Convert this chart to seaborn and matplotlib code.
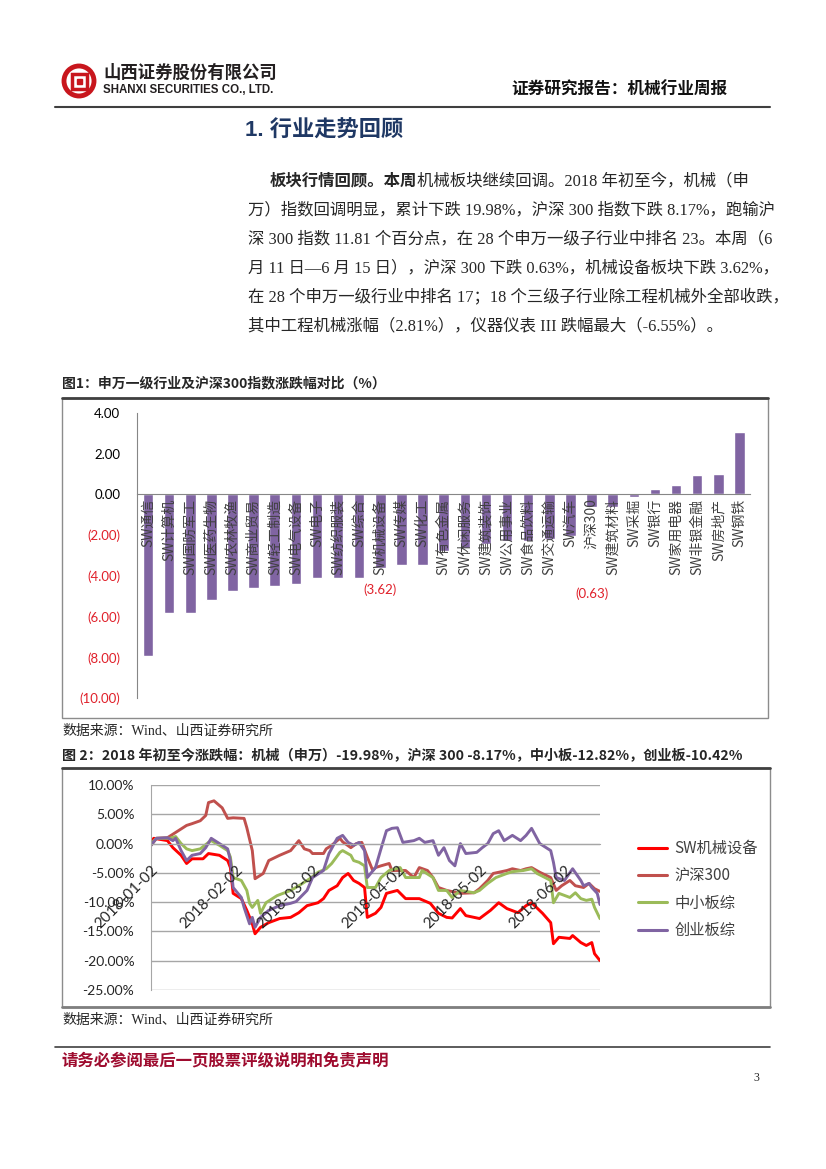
import numpy as np
import pandas as pd
import matplotlib
matplotlib.use('Agg')
import matplotlib.pyplot as plt
import seaborn as sns
from matplotlib.lines import Line2D
from matplotlib.patches import Circle, Rectangle

# Figure 1: weekly change of SW level-1 industries and CSI 300 (%)
industries = ['SW通信', 'SW计算机', 'SW国防军工', 'SW医药生物', 'SW农林牧渔', 'SW商业贸易',
              'SW轻工制造', 'SW电气设备', 'SW电子', 'SW纺织服装', 'SW综合', 'SW机械设备',
              'SW传媒', 'SW化工', 'SW有色金属', 'SW休闲服务', 'SW建筑装饰', 'SW公用事业',
              'SW食品饮料', 'SW交通运输', 'SW汽车', '沪深300', 'SW建筑材料', 'SW采掘',
              'SW银行', 'SW家用电器', 'SW非银金融', 'SW房地产', 'SW钢铁']
weekly_chg = [-7.95, -5.8, -5.8, -5.2, -4.75, -4.6, -4.5, -4.4, -4.1, -4.1, -4.1, -3.62,
              -3.45, -3.45, -2.8, -2.65, -2.45, -2.3, -2.3, -2.2, -2.05, -0.63, -0.6, -0.12,
              0.25, 0.45, 0.95, 1.0, 3.05]
bar_ticks = [-10, -8, -6, -4, -2, 0, 2, 4]

# Figure 2: cumulative change since 2018-01-02 (%), x = days after 2018-01-02
mach_days = [0, 1, 6, 8, 11, 13, 15, 19, 21, 25, 28, 29, 30, 33, 35, 37, 38, 40, 43, 47,
             51, 54, 57, 61, 63, 65, 68, 70, 72, 74, 76, 78, 79, 82, 84, 86, 90, 93, 98, 102,
             105, 108, 110, 113, 115, 120, 124, 127, 130, 134, 137, 139, 143, 146, 147, 149, 153, 154, 157, 159,
             161, 162, 164]
mach_vals = [0.2, 0.9, 0.5, -0.7, -2.0, -3.4, -2.6, -2.6, -1.7, -2.0, -2.9, -4.1, -8.5, -9.4, -11.4, -13.7, -15.4, -14.3, -13.5, -12.8,
             -12.6, -11.8, -10.6, -10.1, -9.4, -8.0, -7.2, -5.8, -5.1, -6.3, -6.8, -7.5, -12.6, -11.9, -10.9, -8.5, -8.0, -9.4, -9.4, -10.2,
             -11.9, -12.6, -12.7, -11.1, -12.3, -12.8, -11.4, -10.1, -11.1, -11.8, -10.6, -10.1, -11.9, -13.5, -17.1, -16.0, -16.2, -15.7, -16.9, -17.4,
             -16.9, -18.8, -19.98]

hs_days = [0, 2, 6, 9, 13, 15, 18, 20, 21, 23, 26, 28, 30, 34, 35, 37, 38, 41, 43, 47,
           51, 54, 56, 58, 59, 63, 64, 66, 69, 70, 73, 75, 77, 79, 81, 82, 84, 87, 88, 93,
           96, 98, 101, 103, 105, 108, 113, 118, 120, 123, 125, 127, 130, 132, 135, 137, 139, 142, 146, 148,
           150, 153, 155, 158, 160, 162, 164]
hs_vals = [-0.3, 0.9, 1.0, 1.9, 3.1, 3.4, 3.9, 4.8, 7.0, 7.3, 6.1, 4.3, 4.4, 4.3, 2.7, -1.2, -6.0, -5.1, -2.9, -2.0,
           -1.2, 0.5, -0.9, -1.2, -1.7, -1.7, -0.9, -0.3, 0.9, 0.3, -0.7, 0.0, 0.2, -2.3, -4.6, -4.1, -3.8, -3.4, -4.6, -4.6,
           -5.8, -4.1, -4.6, -5.8, -7.5, -8.0, -8.5, -8.4, -7.7, -6.3, -5.1, -4.9, -4.6, -4.3, -4.6, -4.3, -4.1, -4.9, -5.8, -8.0,
           -7.2, -6.3, -7.2, -7.5, -6.8, -7.7, -8.17]

smb_days = [0, 2, 7, 9, 11, 13, 15, 18, 21, 22, 25, 28, 29, 30, 33, 35, 36, 37, 39, 40,
            42, 46, 51, 54, 58, 61, 64, 66, 69, 70, 73, 74, 76, 78, 79, 82, 84, 87, 91, 93,
            98, 99, 103, 105, 108, 110, 113, 118, 120, 123, 126, 130, 132, 136, 139, 141, 146, 147, 149, 153,
            155, 157, 159, 161, 162, 164]
smb_vals = [0.0, 0.9, 0.9, 1.2, 0.0, -0.9, -1.2, -0.9, 0.2, 0.5, -0.3, -1.2, -2.3, -5.8, -6.3, -8.0, -10.2, -10.9, -9.7, -11.9,
            -10.1, -8.9, -8.0, -7.2, -6.0, -4.9, -4.3, -3.4, -1.5, -1.2, -2.0, -2.9, -3.2, -3.8, -7.5, -7.5, -5.8, -4.6, -4.1, -5.8,
            -5.8, -4.6, -5.8, -8.0, -8.0, -9.2, -8.0, -8.4, -8.0, -6.8, -5.8, -5.1, -4.8, -4.6, -4.3, -5.1, -6.3, -10.1, -8.5, -9.2,
            -8.4, -9.4, -9.7, -9.5, -10.9, -12.82]

gem_days = [0, 2, 6, 8, 9, 11, 13, 15, 18, 20, 22, 25, 28, 29, 30, 33, 34, 36, 37, 38,
            40, 43, 47, 51, 53, 57, 59, 63, 65, 68, 70, 72, 74, 76, 78, 79, 82, 84, 86, 88,
            90, 92, 96, 98, 100, 103, 105, 107, 109, 111, 113, 115, 119, 121, 123, 125, 127, 129, 132, 135,
            137, 139, 142, 146, 147, 148, 151, 154, 157, 158, 160, 161, 163, 164]
gem_vals = [-0.3, 0.9, 1.0, 0.5, 0.9, -1.2, -2.9, -2.0, -1.7, -0.7, 0.9, 0.0, -0.9, -2.9, -7.5, -9.2, -10.9, -13.7, -12.6, -14.3,
            -12.6, -11.4, -10.6, -10.2, -9.9, -8.0, -5.8, -4.6, -1.7, 0.9, 1.4, 0.2, -0.3, 0.2, -1.2, -5.8, -4.1, -0.9, 2.2, 2.6,
            2.7, 0.2, 0.5, 0.9, 0.2, 0.5, -2.0, -0.7, -2.9, -3.8, 0.0, -1.7, -1.5, -0.7, 0.0, 1.7, 2.2, 0.5, 1.4, 0.5,
            1.4, 2.6, 0.0, -1.2, -3.2, -5.8, -6.3, -4.3, -6.3, -7.2, -6.8, -7.5, -8.5, -10.42]

series_names = ['SW机械设备', '沪深300', '中小板综', '创业板综']
line_colors = ['#FF0000', '#C0504D', '#9BBB59', '#8064A2']
month_ticks = ['2018-01-02', '2018-02-02', '2018-03-02', '2018-04-02', '2018-05-02', '2018-06-02']
line_ticks = [-25, -20, -15, -10, -5, 0, 5, 10]

sns.set_style('white')
CJK = ['Noto Sans CJK SC', 'DejaVu Sans']
SERIF = ['Liberation Serif', 'Noto Sans CJK SC']
NUM = ['Lato', 'DejaVu Sans']
plt.rcParams['font.family'] = CJK
plt.rcParams['axes.unicode_minus'] = False

RED = '#E0202A'
GRAY = '#A6A6A6'

W, H = 826, 1169
fig = plt.figure(figsize=(8.26, 11.69), dpi=100)

# page layer, pixel coordinates
page = fig.add_axes([0, 0, 1, 1])
page.set_xlim(0, W)
page.set_ylim(H, 0)
page.axis('off')

# logo
logo_red = '#C8161D'
page.add_patch(Circle((79, 81), 15, fill=False, ec=logo_red, lw=3.5))
page.add_patch(Rectangle((71.5, 73.5), 15, 15, fill=False, ec=logo_red, lw=2.5))
page.add_patch(Rectangle((76.5, 78.5), 5, 5, color=logo_red))
page.text(103, 73, '山西证券股份有限公司', fontsize=12.5, weight='bold', color='#231F20',
          family=CJK, va='center')
page.text(103, 90, 'SHANXI SECURITIES CO., LTD.', fontsize=8.3, weight='bold', color='#231F20',
          family=['Liberation Sans'], va='center')
page.text(727, 90, '证券研究报告：机械行业周报', fontsize=12, weight='bold', color='#111111',
          family=CJK, va='center', ha='right')
page.plot([55, 770], [107, 107], color='#3F3F3F', lw=1.5)

# section title and paragraph
page.text(245, 131, '1. 行业走势回顾', fontsize=16, weight='bold', color='#1F3864',
          family=['Liberation Sans', 'Noto Sans CJK SC'], va='center')
body_fs = 11.8
t1 = page.text(270, 181, '板块行情回顾。本周', fontsize=body_fs, weight='bold', family=SERIF, va='center')
page.annotate('机械板块继续回调。2018 年初至今，机械（申', xy=(1, 0.5), xycoords=t1,
              fontsize=body_fs, family=SERIF, va='center', ha='left')
body_lines = ['万）指数回调明显，累计下跌 19.98%，沪深 300 指数下跌 8.17%，跑输沪',
              '深 300 指数 11.81 个百分点，在 28 个申万一级子行业中排名 23。本周（6',
              '月 11 日—6 月 15 日），沪深 300 下跌 0.63%，机械设备板块下跌 3.62%，',
              '在 28 个申万一级行业中排名 17；18 个三级子行业除工程机械外全部收跌，',
              '其中工程机械涨幅（2.81%），仪器仪表 III 跌幅最大（-6.55%）。']
for k, line in enumerate(body_lines):
    page.text(248, 210 + 29 * k, line, fontsize=body_fs, family=SERIF, va='center')

# figure 1 frame and captions
page.text(62, 383, '图1：申万一级行业及沪深300指数涨跌幅对比（%）', fontsize=10, weight='bold',
          family=CJK, va='center')
page.add_patch(Rectangle((62, 398), 706, 320, fill=False, ec='#8C8C8C', lw=1))
page.plot([62, 768], [398, 398], color='#404040', lw=2)
page.text(62, 731, '数据来源：Wind、山西证券研究所', fontsize=10, family=SERIF, va='center')

# figure 2 frame and captions
page.text(62, 756, '图 2：2018 年初至今涨跌幅：机械（申万）-19.98%，沪深 300 -8.17%，中小板-12.82%，创业板-10.42%',
          fontsize=10.2, weight='bold', family=CJK, va='center')
page.add_patch(Rectangle((62, 768), 708, 239, fill=False, ec='#8C8C8C', lw=1))
page.plot([62, 770], [768, 768], color='#404040', lw=2)
page.plot([62, 770], [1007, 1007], color='#7F7F7F', lw=2)
page.text(62, 1020, '数据来源：Wind、山西证券研究所', fontsize=10, family=SERIF, va='center')

# footer
page.plot([55, 770], [1047, 1047], color='#3F3F3F', lw=1.2)
page.text(62, 1060, '请务必参阅最后一页股票评级说明和免责声明', fontsize=11.8, weight='bold',
          color='#9E0B2E', family=CJK, va='center')
page.text(753, 1078, '3', fontsize=8.5, family=SERIF, va='center')

# ---- Figure 1: bar chart ----
ax1 = fig.add_axes([137 / W, 1 - 698 / H, (750 - 137) / W, (698 - 413) / H])
bar_df = pd.DataFrame({'industry': industries, 'chg': weekly_chg})
sns.barplot(data=bar_df, x='industry', y='chg', color='#8064A2', saturation=1, width=0.5, ax=ax1)
ax1.set_axisbelow(False)  # category labels sit on top of the bars
ax1.set_xlim(-0.52, len(industries) - 0.53)
ax1.set_ylim(-10, 4)
ax1.set_xlabel('')
ax1.set_ylabel('')
ax1.set_yticks(bar_ticks)
ax1.set_yticklabels([f'({abs(v):.2f})' if v < 0 else f'{v:.2f}' for v in bar_ticks],
                    fontsize=9.5, family=NUM)
for lab, v in zip(ax1.get_yticklabels(), bar_ticks):
    lab.set_color(RED if v < 0 else 'black')
ax1.spines[['top', 'right']].set_visible(False)
ax1.spines['left'].set_color('#868686')
ax1.spines['bottom'].set_position(('data', 0))
ax1.spines['bottom'].set_color('#868686')
ax1.set_xticks(range(len(industries)))
ax1.set_xticklabels(industries, rotation=90, fontsize=10, color='#404040', family=CJK)
ax1.set_xticks(np.arange(-0.5, len(industries), 1), minor=True)
ax1.tick_params(axis='x', which='major', length=0, pad=3)
ax1.tick_params(axis='x', which='minor', length=5, direction='inout', color='#868686')
ax1.tick_params(axis='y', length=4, color='#868686', pad=8)
ax1.patch.set_alpha(0)

# data labels for machinery and CSI 300
for name in ['SW机械设备', '沪深300']:
    i = industries.index(name)
    ax1.text(i, -4.7 if name == 'SW机械设备' else -4.9, f'({abs(weekly_chg[i]):.2f})',
             color=RED, fontsize=9.5, family=NUM, ha='center', va='center')

# ---- Figure 2: line chart ----
ax2 = fig.add_axes([151 / W, 1 - 990 / H, 449 / W, 205 / H])
start = pd.Timestamp('2018-01-02')
frames = []
for name, days, vals in zip(series_names, [mach_days, hs_days, smb_days, gem_days],
                            [mach_vals, hs_vals, smb_vals, gem_vals]):
    frames.append(pd.DataFrame({'date': start + pd.to_timedelta(days, unit='D'),
                                'value': vals, 'series': name}))
line_df = pd.concat(frames, ignore_index=True)
for v in line_ticks:
    ax2.axhline(v, color=GRAY, lw=1, zorder=0.5)
sns.lineplot(data=line_df, x='date', y='value', hue='series', hue_order=series_names,
             palette=dict(zip(series_names, line_colors)), estimator=None, linewidth=2.1,
             legend=False, ax=ax2)
ax2.set_xlim(start, pd.Timestamp('2018-06-15'))
ax2.set_ylim(-25, 10)
ax2.set_xlabel('')
ax2.set_ylabel('')
ax2.set_yticks(line_ticks)
ax2.set_yticklabels([f'{v:.2f}%' for v in line_ticks], fontsize=10, family=NUM)
ax2.set_axisbelow(False)  # date labels drawn over the lines
ax2.spines[['top', 'right']].set_visible(False)
ax2.spines['left'].set_color(GRAY)
ax2.spines['bottom'].set_position(('data', 0))
ax2.spines['bottom'].set_color(GRAY)
ax2.tick_params(axis='y', length=0, pad=12)
ax2.set_xticks(pd.to_datetime(month_ticks))
ax2.set_xticklabels(month_ticks, rotation=45, ha='right', rotation_mode='anchor',
                    fontsize=11, family=NUM)
ax2.tick_params(axis='x', length=3, color=GRAY, pad=11)
ax2.patch.set_alpha(0)

handles = [Line2D([], [], color=c, lw=2.2) for c in line_colors]
ax2.legend(handles, series_names, loc='upper left', bbox_to_anchor=(638 / W, 1 - 840 / H),
           bbox_transform=fig.transFigure, frameon=False, handlelength=1.9, handletextpad=0.5,
           labelspacing=0.68, borderpad=0, borderaxespad=0,
           prop={'family': CJK, 'size': 11}, labelcolor='#404040')

fig.savefig('out.png', dpi=100)
